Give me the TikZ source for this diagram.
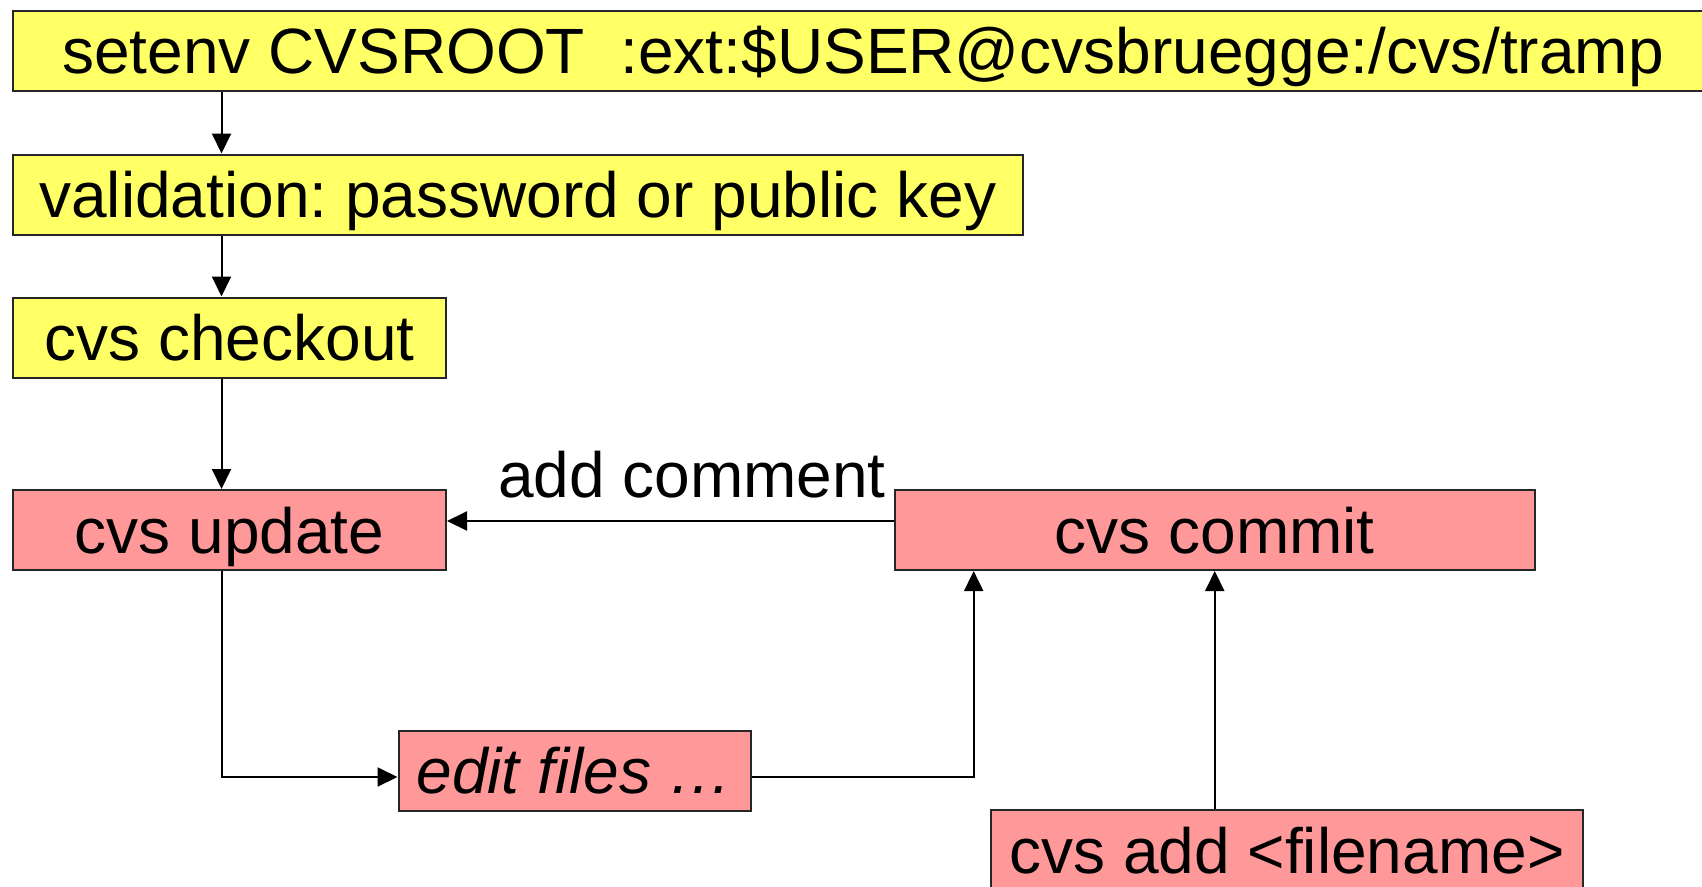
\documentclass[tikz,border=0pt]{standalone}
\usepackage{fontspec}
\setmainfont{Liberation Sans}
\usetikzlibrary{arrows.meta}
\definecolor{boxyellow}{RGB}{255,255,102}
\definecolor{boxpink}{RGB}{255,153,153}
\frenchspacing
\begin{document}
\begin{tikzpicture}[x=1pt,y=-1pt,
  box/.style={draw=black!85, line width=2pt, rectangle, inner sep=0pt,
    text height=46pt, text depth=0pt, minimum height=80pt,
    font=\fontsize{64}{76}\selectfont, anchor=north west},
  ybox/.style={box, fill=boxyellow},
  pbox/.style={box, fill=boxpink},
  arr/.style={line width=2pt, -{Triangle[length=20pt,width=19pt]}},
  lbl/.style={inner sep=0pt, font=\fontsize{64}{76}\selectfont}]
\useasboundingbox (0,0) rectangle (1702,886);
\clip (0,0) rectangle (1702,886);
\fill[white] (0,0) rectangle (1702,886);
\coordinate (cx) at (221.5,0);
\coordinate (ay) at (0,521);
\coordinate (ey) at (0,777);
\coordinate (kx) at (973.7,0);

\node[ybox, minimum width=1700pt] (setenv) at (12,9.5) {setenv CVSROOT~~:ext:\$USER@cvsbruegge:/cvs/tramp};
\node[ybox, minimum width=1009.5pt] (valid) at (12,153.5) {validation: password or public key};
\node[ybox, minimum width=433pt] (checkout) at (12,296.5) {cvs checkout};
\node[pbox, minimum width=433pt] (update) at (12,489) {cvs update};
\node[pbox, minimum width=640.5pt] (commit) at (893.5,489) {cvs commit};
\node[pbox, minimum width=352.5pt] (edit) at (397.5,729.5) {\itshape edit files …};
\node[pbox, minimum width=592pt] (add) at (990,809) {cvs add <filename>};
\node[lbl, anchor=base east] (comment) at (886,497) {add comment};

\draw[arr] (setenv.south -| cx) -- (valid.north -| cx);
\draw[arr] (valid.south -| cx) -- (checkout.north -| cx);
\draw[arr] (checkout.south -| cx) -- (update.north -| cx);
\draw[arr] (commit.west |- ay) -- (update.east |- ay);
\draw[arr] (update.south -| cx) |- (edit.west |- ey);
\draw[arr] (edit.east |- ey) -| (commit.south -| kx);
\draw[arr] (commit.south |- add.north) -- (commit.south);
\end{tikzpicture}
\end{document}
